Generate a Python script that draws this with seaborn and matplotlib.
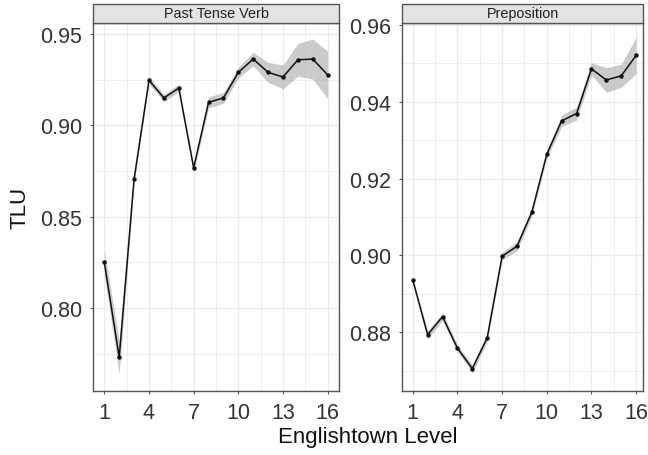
import numpy as np
import pandas as pd
import matplotlib
matplotlib.use("Agg")
import matplotlib.pyplot as plt
from matplotlib.patches import Rectangle
from matplotlib.ticker import MultipleLocator, FixedLocator
import seaborn as sns

# Englishtown levels and the TLU score per level, with the half-width of the band
levels = list(range(1, 17))
past_tense_tlu = [0.825, 0.773, 0.8706, 0.9247, 0.9150, 0.9204, 0.8767, 0.9126,
                  0.9150, 0.9290, 0.9363, 0.9290, 0.9265, 0.9359, 0.9363, 0.9276]
past_tense_band = [0.007, 0.009, 0.002, 0.002, 0.002, 0.002, 0.002, 0.003,
                   0.003, 0.003, 0.0037, 0.0055, 0.0065, 0.009, 0.011, 0.013]
preposition_tlu = [0.8937, 0.8794, 0.8841, 0.8759, 0.8706, 0.8786, 0.8998, 0.9024,
                   0.9113, 0.9263, 0.9350, 0.9369, 0.9485, 0.9456, 0.9467, 0.9520]
preposition_band = [0.0004, 0.001, 0.001, 0.0009, 0.001, 0.001, 0.001, 0.0012,
                    0.001, 0.001, 0.0015, 0.0017, 0.0016, 0.0032, 0.003, 0.0047]
panel_titles = ["Past Tense Verb", "Preposition"]
x_ticks = [1, 4, 7, 10, 13, 16]

sns.set_theme(style="white")
plt.rcParams["font.family"] = ["Liberation Sans", "DejaVu Sans"]

W, H = 648, 456
fig = plt.figure(figsize=(W / 100, H / 100), dpi=100)

def frac(x0, y0, x1, y1):
    return [x0 / W, 1 - y1 / H, (x1 - x0) / W, (y1 - y0) / H]

panels = [
    dict(rect=frac(92.7, 23.7, 339.3, 392.3), tlu=past_tense_tlu, band=past_tense_band,
         ylim=(0.7544, 0.9562), xlim=(0.22, 16.78), major=0.05, minor=0.025,
         fmt="{:.2f}"),
    dict(rect=frac(401.7, 23.7, 643.3, 392.3), tlu=preposition_tlu, band=preposition_band,
         ylim=(0.8647, 0.9605), xlim=(0.26, 16.48), major=0.02, minor=0.01,
         fmt="{:.2f}"),
]

grey_txt = "#333333"
border = "#555555"
grid_c = "#ebebeb"

for title, p in zip(panel_titles, panels):
    ax = fig.add_axes(p["rect"])
    df = pd.DataFrame({"level": levels, "tlu": p["tlu"], "band": p["band"]})
    lo = df["tlu"] - df["band"]
    hi = df["tlu"] + df["band"]
    ax.fill_between(df["level"], lo, hi, color="#999999", alpha=0.5, lw=0, zorder=2)
    sns.lineplot(data=df, x="level", y="tlu", ax=ax, color="#111111", lw=1.1,
                 marker="o", markersize=3.2, markeredgewidth=0, zorder=3)
    ax.set_xlim(*p["xlim"])
    ax.set_ylim(*p["ylim"])
    ax.xaxis.set_major_locator(FixedLocator(x_ticks))
    ax.xaxis.set_minor_locator(FixedLocator([2.5, 5.5, 8.5, 11.5, 14.5]))
    ax.yaxis.set_major_locator(MultipleLocator(p["major"]))
    ax.yaxis.set_minor_locator(MultipleLocator(p["minor"]))
    ax.set_yticklabels([p["fmt"].format(v) for v in ax.get_yticks()])
    ax.grid(True, which="major", color=grid_c, lw=0.9, zorder=0)
    ax.grid(True, which="minor", color=grid_c, lw=0.6, zorder=0)
    ax.set_axisbelow(True)
    ax.set_xlabel("")
    ax.set_ylabel("")
    for s in ax.spines.values():
        s.set_visible(True)
        s.set_color(border)
        s.set_linewidth(1.0)
    ax.tick_params(which="major", direction="out", length=2.5, width=0.8,
                   color=border, labelsize=15.5, labelcolor=grey_txt, pad=5,
                   bottom=True, left=True)
    ax.tick_params(which="minor", length=0)
    # facet strip above the panel
    x0, y0, w, h = p["rect"]
    strip_h = 18.7 / H
    fig.add_artist(Rectangle((x0, y0 + h), w, strip_h, transform=fig.transFigure,
                             facecolor="#e3e3e3", edgecolor=border, lw=1.0))
    fig.text(x0 + w / 2, y0 + h + strip_h / 2, title, ha="center", va="center",
             fontsize=10.4, color="#222222")

fig.text(20 / W, 1 - 208 / H, "TLU", rotation=90, ha="center", va="center",
         fontsize=16, color="#111111")
fig.text(368 / W, 1 - 438 / H, "Englishtown Level", ha="center", va="center",
         fontsize=16, color="#111111")

fig.savefig("out.png", dpi=100, facecolor="white")
